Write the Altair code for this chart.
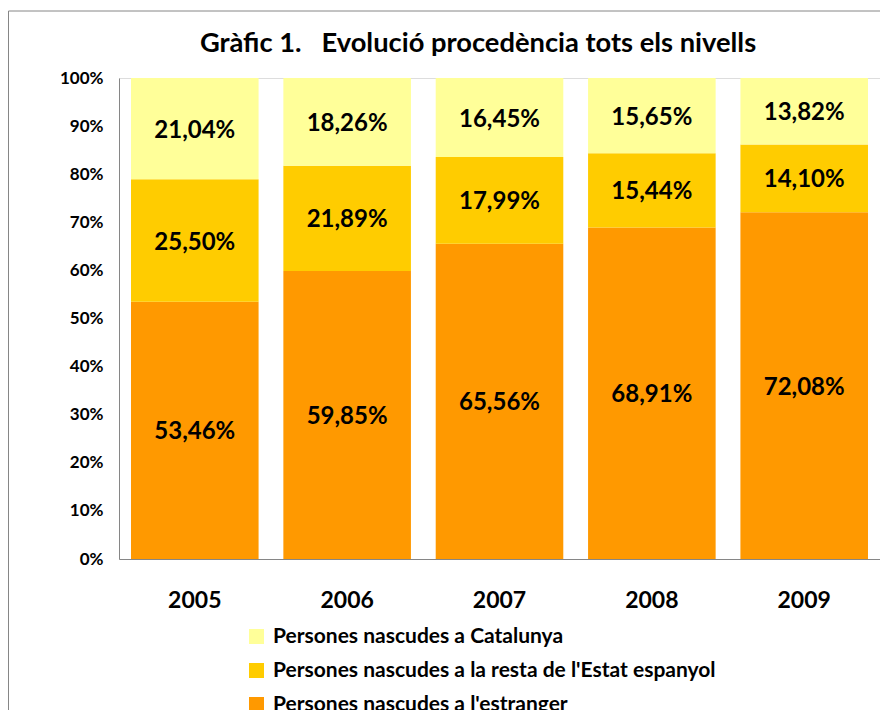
import altair as alt
import pandas as pd

years = ["2005", "2006", "2007", "2008", "2009"]
series = [
    "Persones nascudes a Catalunya",
    "Persones nascudes a la resta de l'Estat espanyol",
    "Persones nascudes a l'estranger",
]
catalunya = [21.04, 18.26, 16.45, 15.65, 13.82]
resta = [25.50, 21.89, 17.99, 15.44, 14.10]
estranger = [53.46, 59.85, 65.56, 68.91, 72.08]
colors = ["#FFFF99", "#FFCC00", "#FF9900"]
title_text = "Gràfic 1.\u00a0\u00a0\u00a0Evolució procedència tots els nivells"

rows = []
for vals, name, order in [(estranger, series[2], 0), (resta, series[1], 1), (catalunya, series[0], 2)]:
    for y, v in zip(years, vals):
        rows.append({
            "year": y,
            "serie": name,
            "ord": order,
            "value": v / 100.0,
            "label": f"{v:.2f}".replace(".", ",") + "%",
        })
df = pd.DataFrame(rows)

FONT = "Lato, 'Open Sans', sans-serif"

base = alt.Chart(df).transform_stack(
    stack="value",
    groupby=["year"],
    sort=[alt.SortField("ord", order="ascending")],
    as_=["v0", "v1"],
).transform_calculate(mid="(datum.v0 + datum.v1) / 2")

xenc = alt.X(
    "year:N",
    sort=years,
    scale=alt.Scale(paddingInner=0.1626, paddingOuter=0.0788),
    axis=alt.Axis(
        title=None, labelAngle=0, ticks=False, labelFont=FONT, labelFontSize=23,
        labelFontWeight="bold", labelColor="#000000", labelPadding=30,
        domainColor="#868686", grid=False,
    ),
)

bars = base.mark_bar().encode(
    x=xenc,
    y=alt.Y(
        "v0:Q",
        scale=alt.Scale(domain=[0, 1], nice=False, zero=True),
        axis=alt.Axis(
            title=None, values=[i / 10 for i in range(11)], format=".0%",
            ticks=False, labelFont=FONT, labelFontSize=17, labelFontWeight="bold",
            labelColor="#000000", labelPadding=16, domainColor="#868686", grid=False,
        ),
    ),
    y2="v1:Q",
    color=alt.Color(
        "serie:N",
        scale=alt.Scale(domain=series, range=colors),
        legend=alt.Legend(
            title=None, orient="none", legendX=127, legendY=548, direction="vertical",
            symbolType="square", symbolSize=225, symbolStrokeWidth=0,
            labelFont=FONT, labelFontSize=21, labelFontWeight="bold",
            labelColor="#000000", labelOffset=6, rowPadding=12, labelLimit=800,
            padding=0,
        ),
    ),
)

texts = base.mark_text(font=FONT, fontSize=24, fontWeight="bold", color="#000000", baseline="middle", dy=2).encode(
    x=alt.X("year:N", sort=years),
    y=alt.Y("mid:Q"),
    text="label:N",
)

title = alt.Chart(pd.DataFrame({"t": [title_text]})).mark_text(
    font=FONT, fontSize=27.3, fontWeight="bold", color="#000000", align="center", baseline="middle"
).encode(text="t:N", x=alt.value(359), y=alt.value(-34))

frame_top = alt.Chart(pd.DataFrame({"a": [0]})).mark_rule(color="#868686", strokeWidth=1).encode(
    x=alt.value(-110.5), x2=alt.value(761), y=alt.value(-67)
)
frame_left = alt.Chart(pd.DataFrame({"a": [0]})).mark_rule(color="#868686", strokeWidth=1).encode(
    x=alt.value(-110.5), y=alt.value(-67), y2=alt.value(700)
)

chart = alt.layer(bars, texts, title, frame_top, frame_left).properties(
    width=761,
    height=481,
    autosize=alt.AutoSizeParams(type="none"),
    padding={"left": 111, "top": 70, "right": 0, "bottom": 151},
).configure_view(stroke=None).configure(background="#FFFFFF")

chart.save("out.html", embed_options={"renderer": "svg", "actions": False})
